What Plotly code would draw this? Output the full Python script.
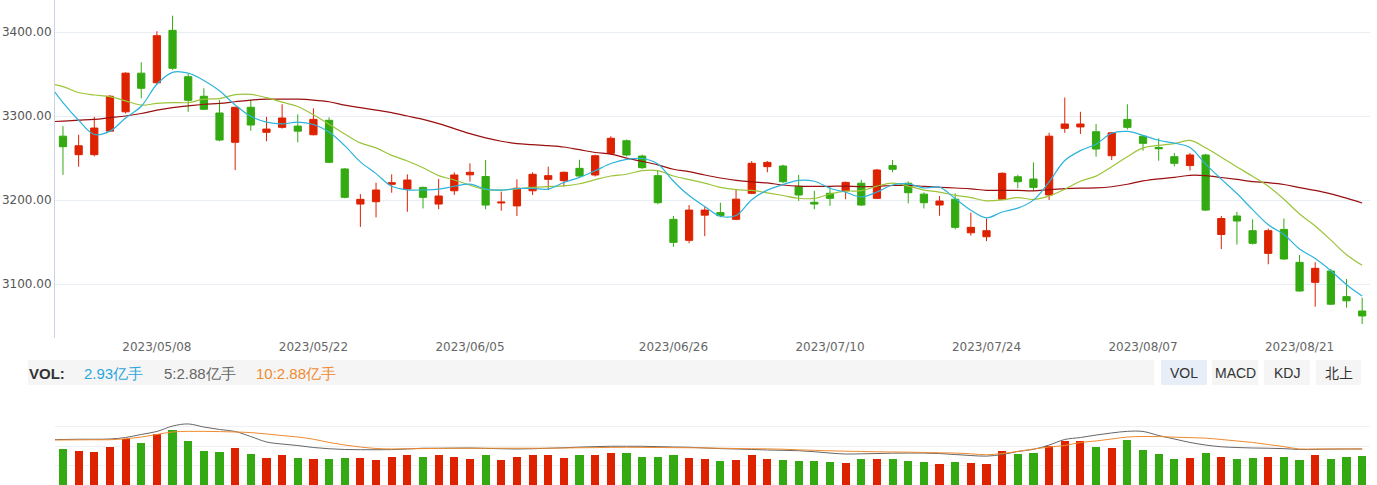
import plotly.graph_objects as go

# ---------------- data ----------------
dates = ["04/25","04/26","04/27","04/28","05/04","05/05","05/08","05/09","05/10","05/11",
         "05/12","05/15","05/16","05/17","05/18","05/19","05/22","05/23","05/24","05/25",
         "05/26","05/29","05/30","05/31","06/01","06/02","06/05","06/06","06/07","06/08",
         "06/09","06/12","06/13","06/14","06/15","06/16","06/19","06/20","06/21","06/26",
         "06/27","06/28","06/29","06/30","07/03","07/04","07/05","07/06","07/07","07/10",
         "07/11","07/12","07/13","07/14","07/17","07/18","07/19","07/20","07/21","07/24",
         "07/25","07/26","07/27","07/28","07/31","08/01","08/02","08/03","08/04","08/07",
         "08/08","08/09","08/10","08/11","08/14","08/15","08/16","08/17","08/18","08/21",
         "08/22","08/23","08/24","08/25"]

opens = [3276,3254,3254,3282,3305,3351,3339.6,3402,3346.8,3323.5,
         3303.6,3268.7,3310.4,3280.6,3286.5,3288,3277.7,3294.9,3237,3195.2,
         3198,3218.7,3213,3215,3195.2,3211,3230,3228,3196.5,3193,
         3211,3224.6,3223,3237.7,3229.8,3255.6,3270.6,3252.4,3229,3177,
         3152,3182,3185,3177,3208,3239.7,3240.5,3215.8,3197.3,3208,
         3211,3220,3202,3241,3220,3207,3194,3201,3161,3156.3,
         3201,3227.7,3225,3206,3285.3,3287,3281.3,3252.7,3296,3276,
         3262.5,3251.6,3241,3253.6,3159,3181,3163.5,3136.5,3165,3125.8,
         3102,3115.5,3085,3067.9]
highs = [3288,3277.7,3299,3325,3352,3364,3401,3419.4,3350,3333,
         3319,3311,3319,3299,3314,3302,3309,3298.5,3238,3207,
         3220.6,3230.6,3230.6,3216,3225,3233,3243.7,3247.6,3210,3224.6,
         3233,3239.7,3234,3248,3254,3276,3272,3254,3235.7,3181,
         3194,3192,3196.8,3212.7,3246.4,3246.4,3242,3229.8,3211,3215.8,
         3222,3224,3237,3247.6,3222,3209,3204.8,3208,3185,3178,
         3233,3230,3244.8,3280,3322,3305,3290.5,3281,3314,3277,
         3273.5,3256,3256,3255,3181,3186,3177,3166,3178,3134.5,
         3126,3118,3106,3083.7]
lows = [3230,3239.7,3252,3281,3303,3321,3338,3355,3305,3307,
        3270,3235.7,3282.5,3270,3285,3268.7,3277,3244,3202,3168,
        3179.4,3208.7,3186,3190,3189,3206,3221.8,3189,3187.3,3181,
        3206,3212,3216,3227,3228,3254,3252,3237,3195,3144.4,
        3148.5,3157,3179.4,3176,3207,3233,3220,3199,3189,3193,
        3200.8,3193,3201,3233,3196,3190,3181.3,3165,3157.5,3151,
        3200,3214,3211,3200,3280,3278.6,3251.6,3247.6,3284,3258.7,
        3246.8,3240,3235,3187,3141.7,3147,3147,3123.5,3129,3091,
        3073,3075,3072,3052.4]
closes = [3263.5,3264.6,3285.7,3323.5,3351,3333,3395.6,3356.8,3318.7,3308,
          3271.4,3310.4,3289.3,3284.5,3297.6,3282,3296,3244.9,3203.2,3200.8,
          3211.9,3220.6,3223.8,3203.2,3204.8,3229.8,3233,3194,3197.5,3214,
          3230.6,3229,3233,3228.6,3252.7,3273.5,3253.6,3238.5,3196.8,3149.6,
          3188,3188,3181.3,3201,3243.7,3244.8,3221.8,3206,3195.2,3202,
          3221,3194,3235.7,3236.6,3208.7,3196.8,3198.8,3167.5,3167.5,3163.5,
          3231.8,3221.8,3215,3276,3290.5,3290.5,3260.7,3280,3286.5,3267.5,
          3261,3243.7,3253.6,3188,3178,3175,3148.5,3163.5,3129.8,3091.7,
          3118.7,3076,3080,3062]

# moving-average lines; the first value is the previous session (04/24), just left of the view
ma5 = [3341,
       3316,3295,3278,3282,3297.7,3311.6,3337.8,3352.0,3351.0,3342.4,
       3330.1,3313.1,3299.6,3292.7,3290.6,3292.8,3289.9,3281.0,3264.7,3245.4,
       3231.4,3216.3,3212.1,3212.1,3212.9,3216.4,3218.9,3213.0,3211.8,3213.7,
       3213.8,3213.0,3220.8,3227.0,3234.8,3243.4,3248.3,3249.4,3243.0,3222.4,
       3205.3,3192.2,3180.7,3181.6,3200.4,3211.8,3218.5,3223.5,3222.3,3214.0,
       3209.2,3203.6,3209.6,3217.9,3219.2,3214.4,3215.3,3201.7,3187.9,3178.8,
       3185.8,3190.4,3199.9,3221.6,3247.0,3258.8,3266.5,3279.5,3281.6,3277.0,
       3271.1,3267.7,3262.5,3242.8,3224.9,3207.7,3188.6,3170.6,3159.0,3141.7,
       3130.4,3115.9,3099.2,3085.7]
ma10 = [3339,
        3335,3328,3325,3323,3318,3313,3315,3316,3316,3320.0,
        3320.8,3325.4,3325.8,3321.9,3316.5,3311.4,3301.5,3290.3,3278.7,3268.0,
        3262.1,3253.1,3246.5,3238.4,3229.1,3223.9,3217.6,3212.5,3211.9,3213.3,
        3215.1,3216.0,3216.9,3219.4,3224.2,3228.6,3230.7,3235.1,3235.0,3228.6,
        3224.3,3220.2,3215.1,3212.3,3211.4,3208.5,3205.4,3202.1,3201.9,3207.2,
        3210.5,3211.1,3216.5,3220.1,3216.6,3211.8,3209.5,3205.6,3202.9,3199.0,
        3200.1,3202.9,3200.8,3204.7,3212.9,3222.3,3228.5,3239.7,3251.6,3262.0,
        3265.0,3267.1,3271.0,3262.2,3251.0,3239.4,3228.2,3216.5,3200.9,3183.3,
        3169.1,3152.3,3134.9,3122.3]
ma30 = [3293,
        3294,3295,3296,3298,3300,3303,3307,3310,3312,3314,
        3315,3317,3319,3320,3320,3320,3319,3317,3313,3310,
        3307,3304,3300,3296,3291,3285,3279,3274,3270,3267.1,
        3266.0,3264.8,3263.1,3259.9,3256.6,3254.6,3249.9,3246.0,3241.9,3236.6,
        3233.8,3229.8,3226.2,3223.4,3221.6,3220.3,3217.9,3216.6,3216.3,3216.3,
        3216.6,3215.8,3216.2,3217.3,3217.4,3216.3,3215.2,3214.3,3213.3,3211.6,
        3211.6,3211.4,3210.8,3212.4,3213.6,3214.2,3214.4,3215.8,3218.8,3222.7,
        3225.2,3227.0,3229.4,3229.0,3226.8,3224.5,3222.0,3220.6,3218.5,3214.8,
        3211.4,3207.4,3202.2,3196.4]

# volume, 亿手
volume = [3.71,3.47,3.36,3.92,4.74,4.26,5.28,5.62,4.49,3.47,
          3.36,3.82,3.13,2.79,3.03,2.79,2.69,2.69,2.79,2.79,
          2.54,2.89,3.03,2.89,3.03,2.89,2.69,3.03,2.54,2.89,
          3.03,3.03,2.79,3.03,3.03,3.23,3.23,2.89,2.89,3.03,
          2.79,2.69,2.44,2.54,3.03,2.69,2.54,2.44,2.44,2.34,
          2.21,2.69,2.69,2.69,2.44,2.34,2.10,2.34,2.21,2.10,
          3.47,3.13,3.23,3.98,4.49,4.49,3.92,3.82,4.59,3.57,
          3.13,2.69,2.79,3.23,2.89,2.69,2.79,2.89,2.89,2.54,
          3.03,2.69,2.89,2.93]
vol_ma5 = [3.64,
           3.65,3.67,3.67,3.69,3.81,4.06,4.30,4.74,4.91,4.66,
           4.46,4.30,3.89,3.45,3.28,3.16,3.00,2.90,2.84,2.82,
           2.82,2.83,2.88,2.94,2.94,2.95,2.96,2.93,2.90,2.88,
           2.90,2.94,2.98,3.03,3.07,3.10,3.10,3.10,3.07,3.04,
           3.02,2.96,2.91,2.88,2.84,2.80,2.77,2.74,2.66,2.55,
           2.47,2.49,2.51,2.54,2.55,2.55,2.51,2.43,2.35,2.30,
           2.43,2.68,2.85,3.20,3.65,3.81,4.01,4.18,4.31,4.30,
           3.97,3.69,3.41,3.20,3.06,3.00,2.96,2.94,2.91,2.84,
           2.85,2.87,2.88,2.88]
vol_ma10 = [3.60,
            3.61,3.62,3.63,3.63,3.71,3.85,4.06,4.26,4.31,4.31,
            4.29,4.26,4.21,4.10,3.97,3.85,3.67,3.41,3.20,3.04,
            2.92,2.88,2.90,2.91,2.93,2.94,2.94,2.94,2.94,2.94,
            2.94,2.94,2.96,2.98,2.99,3.01,3.02,3.01,3.00,2.99,
            2.98,2.97,2.94,2.92,2.90,2.89,2.86,2.81,2.77,2.73,
            2.70,2.68,2.65,2.64,2.62,2.60,2.57,2.55,2.49,2.41,
            2.51,2.68,2.88,3.04,3.16,3.41,3.53,3.69,3.85,3.89,
            3.89,3.84,3.80,3.76,3.65,3.53,3.41,3.24,3.07,2.88,
            2.88,2.88,2.88,2.88]

tick_idx = [6, 16, 26, 39, 49, 59, 69, 79]
tick_labels = ["2023/05/08", "2023/05/22", "2023/06/05", "2023/06/26",
               "2023/07/10", "2023/07/24", "2023/08/07", "2023/08/21"]

vol_label = "2.93亿手"
vol_ma5_label = "5:2.88亿手"
vol_ma10_label = "10:2.88亿手"
buttons = ["VOL", "MACD", "KDJ", "北上"]

# ---------------- styling ----------------
RED = "#dd2200"
GREEN = "#33aa11"
W, H = 1377, 485
ML, MR = 55, 7
idx = list(range(len(dates)))
idx_ma = list(range(-1, len(dates)))

fig = go.Figure()

fig.add_trace(go.Candlestick(
    x=idx, open=opens, high=highs, low=lows, close=closes,
    increasing=dict(line=dict(color=RED, width=1), fillcolor=RED),
    decreasing=dict(line=dict(color=GREEN, width=1), fillcolor=GREEN),
    whiskerwidth=0, hoverinfo="skip", xaxis="x", yaxis="y", showlegend=False))

for vals, col in [(ma30, "#9a1010"), (ma10, "#9cc43a"), (ma5, "#2db3dc")]:
    fig.add_trace(go.Scatter(x=idx_ma, y=vals, mode="lines",
                             line=dict(color=col, width=1.2, shape="spline"),
                             hoverinfo="skip", xaxis="x", yaxis="y", showlegend=False))

bar_colors = [RED if c >= o else GREEN for o, c in zip(opens, closes)]
fig.add_trace(go.Bar(x=idx, y=volume, marker=dict(color=bar_colors, line=dict(width=0)),
                     width=0.52, hoverinfo="skip", xaxis="x2", yaxis="y2", showlegend=False))
fig.add_trace(go.Scatter(x=idx_ma, y=vol_ma5, mode="lines",
                         line=dict(color="#666666", width=1, shape="spline"),
                         hoverinfo="skip", xaxis="x2", yaxis="y3", showlegend=False))
fig.add_trace(go.Scatter(x=idx_ma, y=vol_ma10, mode="lines",
                         line=dict(color="#f08a30", width=1, shape="spline"),
                         hoverinfo="skip", xaxis="x2", yaxis="y3", showlegend=False))

def py(p):
    return 1 - p / H

def px(p):
    return (p - ML) / (W - ML - MR)

xr = [-0.51, 83.5]
fig.update_layout(
    width=W, height=H, autosize=False,
    margin=dict(l=ML, r=MR, t=0, b=0),
    paper_bgcolor="white", plot_bgcolor="white",
    boxgap=0.34,
    bargap=0,
    xaxis=dict(domain=[0, 1], range=xr, anchor="y", rangeslider=dict(visible=False),
               tickmode="array", tickvals=tick_idx, ticktext=tick_labels,
               showgrid=False, zeroline=False, showline=False, ticks="",
               tickfont=dict(family="DejaVu Sans", size=12, color="#666666")),
    yaxis=dict(domain=[py(338.3), 1], range=[3035.4, 3438.1], tick0=0, dtick=100,
               tickformat=".2f", showgrid=True, gridcolor="#e9eef5", gridwidth=1,
               zeroline=False, showline=True, linecolor="#cdd1e4", linewidth=1,
               ticks="", tickfont=dict(family="DejaVu Sans", size=12, color="#555555")),
    xaxis2=dict(domain=[0, 1], range=xr, anchor="y2",
                showticklabels=False, showgrid=False, zeroline=False, showline=False),
    yaxis2=dict(domain=[0, py(407.3)], range=[-0.05, 8.02], dtick=2, tick0=0,
                showticklabels=False, showgrid=True, gridcolor="#eef0f4",
                zeroline=False, showline=False),
    yaxis3=dict(overlaying="y2", range=[-0.04, 6.26], showticklabels=False,
                showgrid=False, zeroline=False, showline=False),
)

shapes = [dict(type="rect", xref="paper", yref="paper", x0=px(28), x1=px(1154),
               y0=py(385), y1=py(360), fillcolor="#f5f5f5", line=dict(width=0), layer="below")]
btn_x = [(1161, 1207), (1212, 1258), (1264, 1310), (1316, 1361)]
for i, (a, b) in enumerate(btn_x):
    shapes.append(dict(type="rect", xref="paper", yref="paper", x0=px(a), x1=px(b),
                       y0=py(385), y1=py(360),
                       fillcolor="#e7eef8" if i == 0 else "#f5f5f5",
                       line=dict(width=0), layer="below"))
fig.update_layout(shapes=shapes)

annos = [
    dict(text="<b>VOL:</b>", x=px(27), y=py(373), font=dict(family="Liberation Sans", size=15, color="#333333")),
    dict(text=vol_label, x=px(82), y=py(373), font=dict(family="Liberation Sans", size=15, color="#2aa7dc")),
    dict(text=vol_ma5_label, x=px(162), y=py(373), font=dict(family="Liberation Sans", size=15, color="#666666")),
    dict(text=vol_ma10_label, x=px(254), y=py(373), font=dict(family="Liberation Sans", size=15, color="#f08a30")),
]
for a in annos:
    a.update(xref="paper", yref="paper", xanchor="left", yanchor="middle", showarrow=False)
for (a, b), t in zip(btn_x, buttons):
    annos.append(dict(text=t, x=px((a + b) / 2), y=py(373), xref="paper", yref="paper",
                      xanchor="center", yanchor="middle", showarrow=False,
                      font=dict(family="Liberation Sans, Noto Sans CJK SC", size=14, color="#333333")))
fig.update_layout(annotations=annos)

fig.write_html("out.html", config={"displayModeBar": False, "staticPlot": True},
               post_script="document.body.style.margin='0';document.body.style.overflow='hidden';")
